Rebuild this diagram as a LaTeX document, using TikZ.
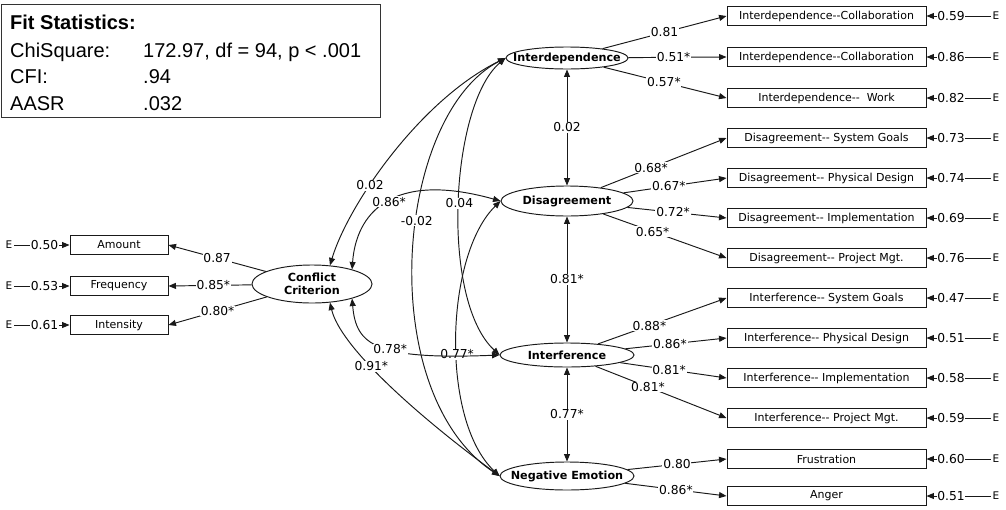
\documentclass[tikz,border=0pt]{standalone}
\usepackage{fontspec}
\usetikzlibrary{shapes.geometric,arrows.meta}
\newfontfamily\dv{DejaVu Sans}
\newfontfamily\lib{Liberation Sans}
\newcommand\dd{-\kern0pt-}
\begin{document}
\begin{tikzpicture}[x=1pt,y=-1pt,
  ln/.style={line width=0.95pt, draw=black!90},
  arr/.style={ln, -{Triangle[length=7.5pt,width=6pt]}},
  darr/.style={ln, {Triangle[length=7.5pt,width=6pt]}-{Triangle[length=7.5pt,width=6pt]}},
  ell/.style={ellipse, draw=black!90, line width=0.95pt, inner sep=0pt},
  fac/.style={font=\dv\bfseries\fontsize{11.2}{13}\selectfont, align=center, inner sep=0pt},
  ind/.style={draw=black!90, line width=0.95pt, inner sep=0pt, minimum height=19pt, font=\dv\fontsize{11}{12}\selectfont},
  lab/.style={fill=white, inner sep=0.8pt, font=\dv\fontsize{12.3}{13}\selectfont},
  err/.style={font=\dv\fontsize{10.5}{11}\selectfont, inner sep=1.5pt},
  fs/.style={anchor=base west, inner sep=0pt, font=\lib\fontsize{20}{22}\selectfont}
]
\useasboundingbox (0,0) rectangle (1006,509);
\fill[white] (0,0) rectangle (1006,509);

% Fit statistics box
\node[draw=black!80, line width=1.2pt, minimum width=379pt, minimum height=113pt, anchor=north west, inner sep=0pt] (fit) at (1,4) {};
\node[fs] (fh) at (10,29) {\bfseries Fit Statistics:};
\node[fs] (chi) at (10,57) {ChiSquare:};
\node[fs] (chiv) at (143,57) {172.97, df = 94, p < .001};
\node[fs] (cfi) at (10,83) {CFI:};
\node[fs] (cfiv) at (143,83) {.94};
\node[fs] (aasr) at (10,110) {AASR};
\node[fs] (aasrv) at (143,110) {.032};

% latent factors
\node[ell, minimum width=120pt, minimum height=38pt] (cc) at (312,284) {};
\node[fac] (tcc) at (cc) {Conflict\\Criterion};
\node[ell, minimum width=122pt, minimum height=22pt] (int) at (567,58) {};
\node[fac] (tint) at (int) {Interdependence};
\node[ell, minimum width=132pt, minimum height=30pt] (dis) at (567,201) {};
\node[fac] (tdis) at (dis) {Disagreement};
\node[ell, minimum width=134pt, minimum height=24pt] (itf) at (567,355) {};
\node[fac] (titf) at (itf) {Interference};
\node[ell, minimum width=134pt, minimum height=28pt] (ne) at (567,476) {};
\node[fac] (tne) at (ne) {Negative Emotion};

% left indicators
\foreach \n/\y/\t/\e/\l/\p in {am/245/Amount/0.50/0.87/.5, fr/286/Frequency/0.53/0.85*/.46, in/325/Intensity/0.61/0.80*/.5} {
  \node[ind, minimum width=98pt] (\n) at (119,\y) {\t};
  \node[err] (e\n) at (9,\y) {E};
  \draw[arr] (e\n) -- node[lab,pos=.55]{\e} (\n);
  \draw[arr] (cc) -- node[lab,pos=\p]{\l} (\n.east);
}

% right indicators
\foreach \n/\y/\t/\e in {
  i1/16/{Interdependence\dd Collaboration}/0.59,
  i2/57/{Interdependence\dd Collaboration}/0.86,
  i3/98/{Interdependence\dd\ \ Work}/0.82,
  d1/138/{Disagreement\dd\ System Goals}/0.73,
  d2/178/{Disagreement\dd\ Physical Design}/0.74,
  d3/218/{Disagreement\dd\ Implementation}/0.69,
  d4/258/{Disagreement\dd\ Project Mgt.}/0.76,
  f1/298/{Interference\dd\ System Goals}/0.47,
  f2/338/{Interference\dd\ Physical Design}/0.51,
  f3/378/{Interference\dd\ Implementation}/0.58,
  f4/418/{Interference\dd\ Project Mgt.}/0.59,
  n1/459/{Frustration}/0.60,
  n2/496/{Anger}/0.51} {
  \node[ind, minimum width=199pt] (\n) at (826.5,\y) {\t};
  \node[err] (e\n) at (996,\y) {E};
  \draw[arr] (e\n) -- node[lab,pos=.62]{\e} (\n);
}

% loadings
\foreach \f/\n/\l/\p in {int/i1/0.81/.5, int/i2/0.51*/.46, int/i3/0.57*/.49,
  dis/d1/0.68*/.4, dis/d2/0.67*/.44, dis/d3/0.72*/.46, dis/d4/0.65*/.4,
  itf/f1/0.88*/.4, itf/f2/0.86*/.44, itf/f3/0.81*/.46, itf/f4/0.81*/.4,
  ne/n1/0.80/.5, ne/n2/0.86*/.5} {
  \draw[arr] (\f) -- node[lab,pos=\p]{\l} (\n.west);
}

% factor correlations: vertical
\draw[darr] (int) -- node[lab]{0.02} (dis);
\draw[darr] (dis) -- node[lab]{0.81*} (itf);
\draw[darr] (itf) -- node[lab]{0.77*} (ne);

% factor correlations: curved
\draw[darr] (dis.west) .. controls (445,255) and (440,420) .. node[lab,pos=.55]{0.77*} (ne.west);
\draw[darr] (cc.46) .. controls (348,205) and (420,100) .. node[lab,pos=.37]{0.02} (int.west);
\draw[darr] (cc.20) .. controls (356,215) and (390,170) .. node[lab,pos=.52]{0.86*} (dis.west);
\draw[darr] (int.west) .. controls (450,105) and (440,300) .. node[lab,pos=.5]{0.04} (itf.west);
\draw[darr] (int.west) .. controls (395,115) and (373,392) .. node[lab,pos=.43]{-0.02} (ne.west);
\draw[darr] (cc.-20) .. controls (356,345) and (375,360) .. node[lab,pos=.57]{0.78*} (itf.west);
\draw[darr] (cc.-46) .. controls (340,345) and (410,410) .. node[lab,pos=.42]{0.91*} (ne.west);
\end{tikzpicture}
\end{document}
